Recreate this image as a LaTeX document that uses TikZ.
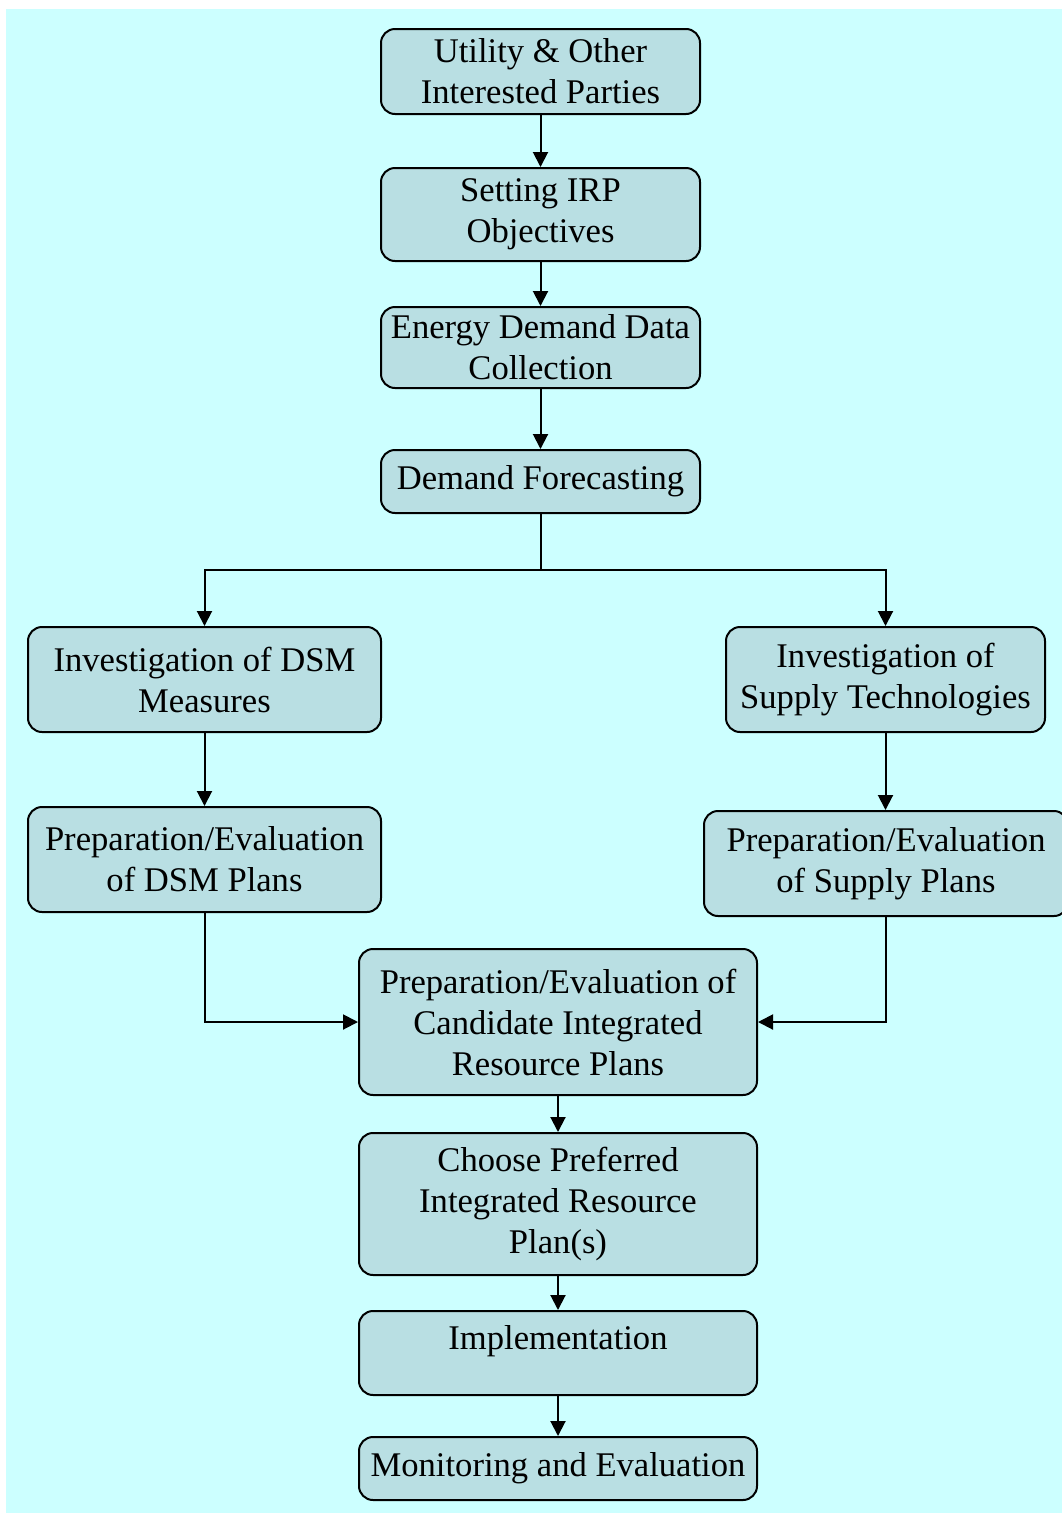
\documentclass[tikz,border=0pt]{standalone}
\usepackage{fontspec}
\setmainfont{Liberation Serif}
\usetikzlibrary{arrows.meta}
\definecolor{bgcyan}{RGB}{204,255,255}
\definecolor{boxcyan}{RGB}{185,223,227}
\tikzset{
    mybox/.style = {rectangle, rounded corners=14pt, line width=2pt, draw=black, fill=boxcyan, align=center, inner sep=2pt, text=black},
    edgen/.style = {-,line width=2pt,black},
    edgea/.style = {-{Triangle[length=15pt,width=15pt]},line width=2pt,black},
}

\begin{document}
\begin{tikzpicture}[x=1pt, y=-1pt,
	font=\fontsize{34.6}{41}\selectfont]
  \useasboundingbox (0,0) rectangle (1062,1513);
  \fill[bgcyan] (6,9) rectangle (1062,1513);

  \node[mybox, minimum width=319pt, minimum height=85pt] (util) at (540.5,71.5) {Utility \& Other\\Interested Parties};
  \node[mybox, minimum width=319pt, minimum height=93pt] (irp) at (540.5,214.5) {Setting IRP\\Objectives};
  \node[mybox, minimum width=319pt, minimum height=81pt] (data) at (540.5,347.5) {Energy Demand Data\\Collection};
  \node[mybox, minimum width=319pt, minimum height=63pt] (fcst) at (540.5,481.5) {Demand Forecasting};
  \node[mybox, minimum width=353pt, minimum height=105pt] (dsm) at (204.5,679.5) {Investigation of DSM\\Measures};
  \node[mybox, minimum width=319pt, minimum height=105pt] (sup) at (885.5,679.5) {Investigation of\\Supply Technologies};
  \node[mybox, minimum width=353pt, minimum height=105pt] (pdsm) at (204.5,859.5) {Preparation/Evaluation\\of DSM Plans};
  \node[mybox, minimum width=364pt, minimum height=105pt] (psup) at (886,863.5) {Preparation/Evaluation\\of Supply Plans};
  \node[mybox, minimum width=398pt, minimum height=146pt] (cand) at (558,1022) {Preparation/Evaluation of\\Candidate Integrated\\Resource Plans};
  \node[mybox, minimum width=398pt, minimum height=142pt] (choose) at (558,1204) {Choose Preferred\\Integrated Resource\\Plan(s)};
  \node[mybox, minimum width=398pt, minimum height=84pt, text height=24pt, text depth=32pt] (impl) at (558,1353) {Implementation};
  \node[mybox, minimum width=398pt, minimum height=63pt] (mon) at (558,1468.5) {Monitoring and Evaluation};

  \coordinate (split) at (540.5,570);

  \draw[edgea] (util) -- (irp);
  \draw[edgea] (irp) -- (data);
  \draw[edgea] (data) -- (fcst);
  \draw[edgen] (fcst.south) -- (split);
  \draw[edgea] (split) -| (dsm.north);
  \draw[edgea] (split) -| (sup.north);
  \draw[edgea] (dsm) -- (pdsm);
  \draw[edgea] (sup.south) -- (psup.north -| sup.south);
  \draw[edgea] (pdsm.south) |- (cand.west);
  \draw[edgea] (psup.south) |- (cand.east);
  \draw[edgea] (cand) -- (choose);
  \draw[edgea] (choose) -- (impl);
  \draw[edgea] (impl) -- (mon);
\end{tikzpicture}
\end{document}
